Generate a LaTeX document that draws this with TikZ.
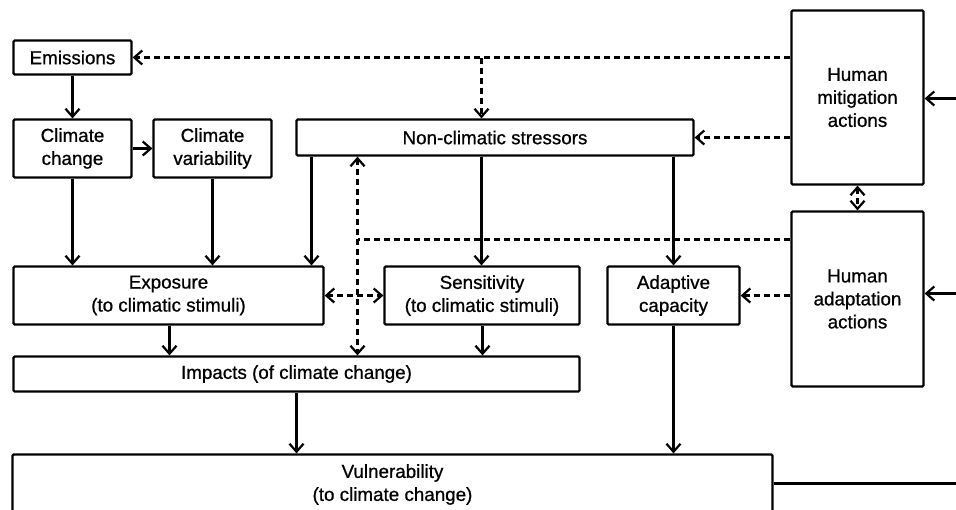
\documentclass[tikz,border=0pt]{standalone}
\usepackage{fontspec}
\setmainfont{Liberation Sans}[BoldFont={Liberation Sans},BoldFeatures={FakeBold=0.8}]
\usetikzlibrary{arrows.meta}
\begin{document}
\begin{tikzpicture}[x=1pt,y=-1pt,
  box/.style={draw,line width=2.2pt,rounded corners=1.2pt,inner sep=0pt,align=center,
    font=\fontsize{18.8}{23}\selectfont\bfseries},
  con/.style={line width=2.2pt,-{Straight Barb[length=8pt,width=14pt]}},
  dcon/.style={con,dash pattern=on 6pt off 4pt},
  ddcon/.style={line width=2.2pt,dash pattern=on 6pt off 4pt,{Straight Barb[length=8pt,width=14pt]}-{Straight Barb[length=8pt,width=14pt]}},
  dline/.style={line width=2.2pt,dash pattern=on 6pt off 4pt}]
\useasboundingbox (0,0) rectangle (956,509);
\clip (0,0) rectangle (956,509);
% nodes
\node[box,minimum width=118pt,minimum height=34pt] (em) at (72.5,57.5) {Emissions};
\node[box,minimum width=118pt,minimum height=58pt] (cc) at (72.5,148.5) {Climate\\change};
\node[box,minimum width=118pt,minimum height=58pt] (cv) at (212.5,148.5) {Climate\\variability};
\node[box,minimum width=397pt,minimum height=36pt] (ncs) at (495,137.5) {Non-climatic stressors};
\node[box,minimum width=132pt,minimum height=174pt] (hm) at (857.5,97.5) {Human\\mitigation\\actions};
\node[box,minimum width=132pt,minimum height=175pt] (ha) at (857.5,299) {Human\\adaptation\\actions};
\node[box,minimum width=310pt,minimum height=58pt] (exp) at (168.5,295.5) {Exposure\\(to climatic stimuli)};
\node[box,minimum width=195pt,minimum height=58pt] (sen) at (482,295.5) {Sensitivity\\(to climatic stimuli)};
\node[box,minimum width=132pt,minimum height=58pt] (ac) at (673.5,295.5) {Adaptive\\capacity};
\node[box,minimum width=566pt,minimum height=35pt] (imp) at (296.5,374) {Impacts (of climate change)};
\node[box,minimum width=760pt,minimum height=60pt] (vul) at (392.5,484.5) {Vulnerability\\(to climate change)};
% helper coordinates
\coordinate (inm) at (956,98.5);
\coordinate (ina) at (956,293.5);
\coordinate (outv) at (956,483.5);
\coordinate (br1) at (481.5,57.5);
\coordinate (jn) at (357.5,239.5);
\coordinate (xa) at (311.5,0);
\coordinate (xb) at (481.5,0);
\coordinate (xc) at (673.5,0);
\coordinate (xd) at (169.5,0);
\coordinate (xe) at (482.5,0);
\coordinate (xf) at (296.5,0);
% solid connectors
\draw[con] (em) -- (cc);
\draw[con] (cc.east) -- (cv.west);
\draw[con] (cc.south) -- (cc.south |- exp.north);
\draw[con] (cv.south) -- (cv.south |- exp.north);
\draw[con] (ncs.south -| xa) -- (exp.north -| xa);
\draw[con] (ncs.south -| xb) -- (sen.north -| xb);
\draw[con] (ncs.south -| xc) -- (ac.north);
\draw[con] (exp.south -| xd) -- (imp.north -| xd);
\draw[con] (sen.south -| xe) -- (imp.north -| xe);
\draw[con] (imp.south -| xf) -- (vul.north -| xf);
\draw[con] (ac.south -| xc) -- (vul.north -| xc);
\draw[con] (inm) -- (hm.east |- inm);
\draw[con] (ina) -- (ha.east |- ina);
\draw[line width=2.2pt] (vul.east |- outv) -- (outv);
% dashed connectors
\draw[dcon] (hm.west |- em.east) -- (em.east);
\draw[dcon] (br1) -- (br1 |- ncs.north);
\draw[dcon] (hm.west |- ncs.east) -- (ncs.east);
\draw[ddcon] (hm.south) -- (ha.north);
\draw[dline] (ha.west |- jn) -- (jn);
\draw[ddcon] (ncs.south -| jn) -- (imp.north -| jn);
\draw[ddcon] (exp.east) -- (sen.west);
\draw[dcon] (ha.west |- ac.east) -- (ac.east);
\end{tikzpicture}
\end{document}
